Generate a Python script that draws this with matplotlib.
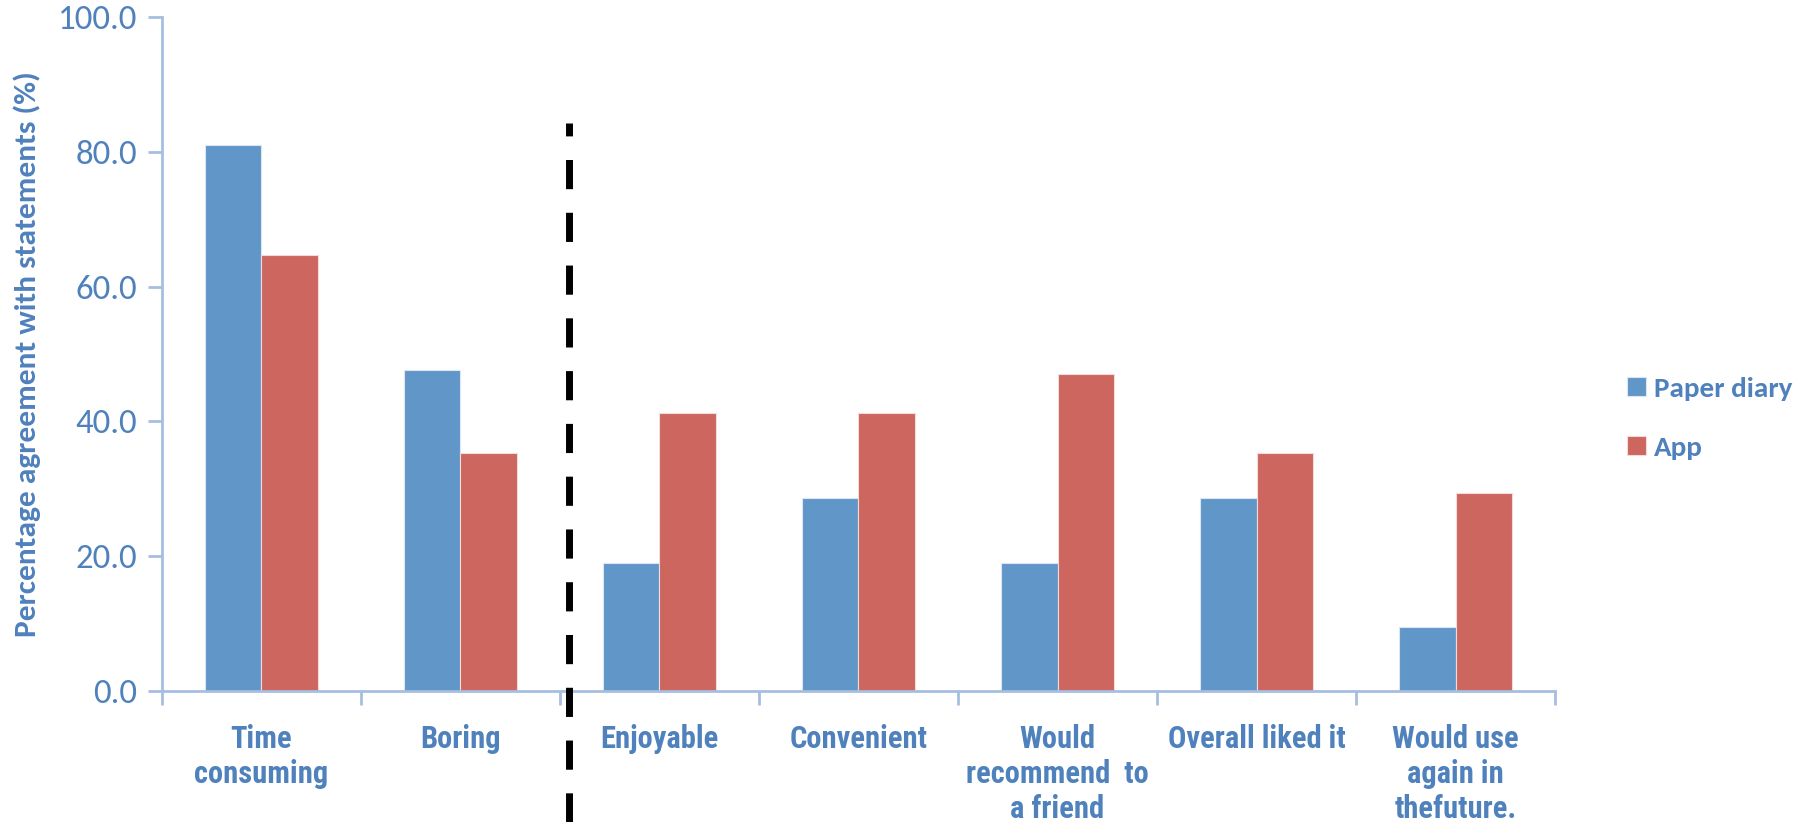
import matplotlib.pyplot as plt
import numpy as np
from matplotlib.font_manager import fontManager

# ── Data ──────────────────────────────────────────────────────────────────────
categories = ["Time\nconsuming", "Boring", "Enjoyable", "Convenient",
              "Would\nrecommend  to\na friend", "Overall liked it",
              "Would use\nagain in\nthefuture."]
paper_diary = [81.0, 47.6, 19.0, 28.6, 19.0, 28.6, 9.5]
app = [64.7, 35.3, 41.2, 41.2, 47.1, 35.3, 29.4]
series_names = ["Paper diary", "App"]
y_ticks = [0, 20, 40, 60, 80, 100]

# ── Style ─────────────────────────────────────────────────────────────────────
BLUE = "#6196C9"
RED = "#CC665E"
TEXT = "#4F81BD"
AXIS = "#A6BEDF"

names = {f.name for f in fontManager.ttflist}
CAL = "Carlito" if "Carlito" in names else "Lato"
narrow = next((n for n in ["Liberation Sans Narrow", "Arimo Narrow", "Roboto Condensed",
                           "Asap Condensed", "Barlow Semi Condensed"] if n in names),
              "DejaVu Sans")

fig = plt.figure(figsize=(17.99, 8.22), dpi=100)
ax = fig.add_axes([0.090, 0.1594, 0.7744, 0.8199])

x = np.arange(len(categories))
w = 0.286
ax.bar(x - w / 2, paper_diary, w, color=BLUE, edgecolor="#DCE6F2", linewidth=0.8,
       label=series_names[0], zorder=2)
ax.bar(x + w / 2, app, w, color=RED, edgecolor="#F2DCDB", linewidth=0.8,
       label=series_names[1], zorder=2)

ax.set_xlim(-0.5, len(categories) - 0.5)
ax.set_ylim(0, 100)

for s in ["top", "right"]:
    ax.spines[s].set_visible(False)
for s in ["left", "bottom"]:
    ax.spines[s].set_color(AXIS)
    ax.spines[s].set_linewidth(2)

ax.set_yticks(y_ticks)
ax.set_yticklabels([f"{v:.1f}" for v in y_ticks], fontfamily=CAL, fontsize=25, color=TEXT)
ax.tick_params(axis="y", length=10, width=2, color=AXIS, pad=8)

# boundaries as major ticks, labels on minor ticks at the centres
ax.set_xticks(np.arange(len(categories) + 1) - 0.5)
ax.set_xticklabels([])
ax.tick_params(axis="x", which="major", length=10, width=2, color=AXIS)
ax.set_xticks(x, minor=True)
ax.set_xticklabels(categories, minor=True, fontfamily=narrow, fontweight="bold",
                   fontsize=22, color=TEXT, linespacing=1.2)
ax.tick_params(axis="x", which="minor", length=0, pad=24)

ax.set_ylabel("Percentage agreement with statements (%)", fontfamily=CAL,
              fontweight="bold", fontsize=22.6, color=TEXT, labelpad=12)

# dashed separator between negative and positive statements
ax.axvline(1.545, ymin=-0.195, ymax=0.843, color="black", linewidth=5,
           dashes=(4.2, 3.4), clip_on=False, zorder=3)

leg = ax.legend(loc="center left", bbox_to_anchor=(1.052, 0.405), frameon=False,
                prop={"family": CAL, "weight": "bold", "size": 21},
                handlelength=0.62, handleheight=0.62, handletextpad=0.3,
                labelspacing=1.2, borderpad=0, borderaxespad=0)
for t in leg.get_texts():
    t.set_color(TEXT)

fig.savefig("out.png", dpi=100)
